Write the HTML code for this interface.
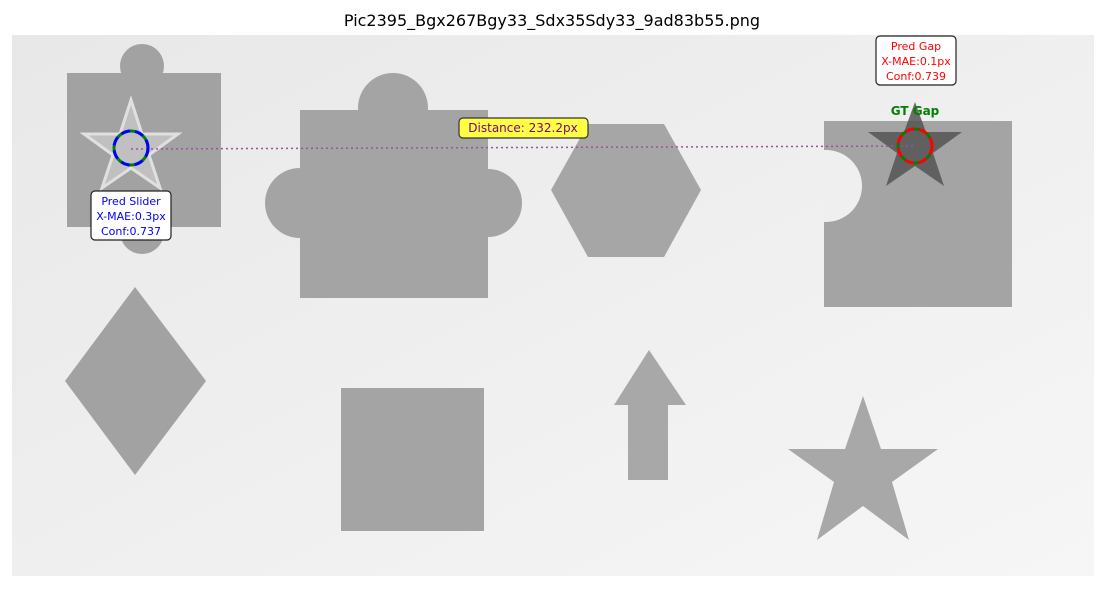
<!DOCTYPE html>
<html><head><style>
body{margin:0;background:#fff;font-family:"Liberation Sans","DejaVu Sans",sans-serif}
</style></head><body>
<svg width="1105" height="588" viewBox="0 0 1105 588" xmlns="http://www.w3.org/2000/svg" font-family="DejaVu Sans, Liberation Sans, sans-serif">
<defs>
<linearGradient id="bg" x1="0" y1="0" x2="1" y2="1"><stop offset="0" stop-color="#e8e8e8"/><stop offset="1" stop-color="#f6f6f6"/></linearGradient>
<clipPath id="rc"><rect x="824" y="121" width="188" height="186"/></clipPath>
</defs>
<text x="552" y="26" text-anchor="middle" font-size="16" fill="#000">Pic2395_Bgx267Bgy33_Sdx35Sdy33_9ad83b55.png</text>
<rect x="12" y="35" width="1082" height="541" fill="url(#bg)"/>
<g fill="#a2a2a2">
<rect x="67" y="73" width="154" height="154"/><circle cx="142" cy="66" r="22"/><circle cx="142" cy="232" r="22"/>
</g>
<g fill="#a4a4a4">
<rect x="300" y="110" width="188" height="188"/><circle cx="393" cy="108" r="35"/><circle cx="300" cy="203" r="35"/><circle cx="488" cy="203" r="34"/>
</g>
<polygon fill="#a6a6a6" points="551,190 588,124 664,124 701,190 664,257 588,257"/>
<g>
<rect x="824" y="121" width="188" height="186" fill="#a4a4a4"/><circle cx="826" cy="186" r="36" fill="#efefef" clip-path="url(#rc)"/>
</g>
<polygon fill="#a2a2a2" points="135,287 206,381 135,475 65,381"/>
<rect x="341" y="388" width="143" height="143" fill="#a4a4a4"/>
<polygon fill="#a8a8a8" points="649,350 686,405 668,405 668,480 628,480 628,405 614,405"/>
<polygon fill="#a8a8a8" points="863,396 881,449 938,449 892,482 909,540 863,506 817,540 834,482 788,449 845,449"/>
<polygon fill="#c0c0c0" stroke="#e0e0e0" stroke-width="3" points="131,100 142,134 178,134 149,155 160,188 131,168 102,188 113,155 84,134 120,134"/>
<polygon fill="#555" opacity="0.85" points="915,102 926,132 962,132 933,153 944,186 915,166 886,186 897,153 868,132 904,132"/>
<line x1="131" y1="149" x2="915" y2="146" stroke="#a050a0" stroke-width="1.5" stroke-dasharray="2,3"/>
<circle cx="131" cy="148" r="17" fill="none" stroke="#008000" stroke-width="3"/>
<circle cx="131" cy="148" r="17" fill="none" stroke="#0000ff" stroke-width="3" stroke-dasharray="9,5"/>
<circle cx="915" cy="146" r="17" fill="none" stroke="#008000" stroke-width="3"/>
<circle cx="915" cy="146" r="17" fill="none" stroke="#ff0000" stroke-width="3" stroke-dasharray="9,5"/>
<text x="915" y="115" text-anchor="middle" font-size="12" font-weight="bold" fill="#008000">GT Gap</text>
<g>
<rect x="91" y="191" width="80" height="49" rx="4" fill="#fff" stroke="#222" stroke-width="1.2"/>
<text x="131" y="205" text-anchor="middle" font-size="11" fill="#0000ff">Pred Slider</text>
<text x="131" y="220" text-anchor="middle" font-size="11" fill="#0000ff">X-MAE:0.3px</text>
<text x="131" y="235" text-anchor="middle" font-size="11" fill="#0000ff">Conf:0.737</text>
</g>
<g>
<rect x="876" y="36" width="80" height="49" rx="4" fill="#fff" stroke="#222" stroke-width="1.2"/>
<text x="916" y="50" text-anchor="middle" font-size="11" fill="#ff0000">Pred Gap</text>
<text x="916" y="65" text-anchor="middle" font-size="11" fill="#ff0000">X-MAE:0.1px</text>
<text x="916" y="80" text-anchor="middle" font-size="11" fill="#ff0000">Conf:0.739</text>
</g>
<g>
<rect x="459" y="118" width="129" height="20" rx="4" fill="#ffff44" stroke="#333" stroke-width="1.2"/>
<text x="523" y="132" text-anchor="middle" font-size="12" fill="#800080">Distance: 232.2px</text>
</g>
</svg>
</body></html>
